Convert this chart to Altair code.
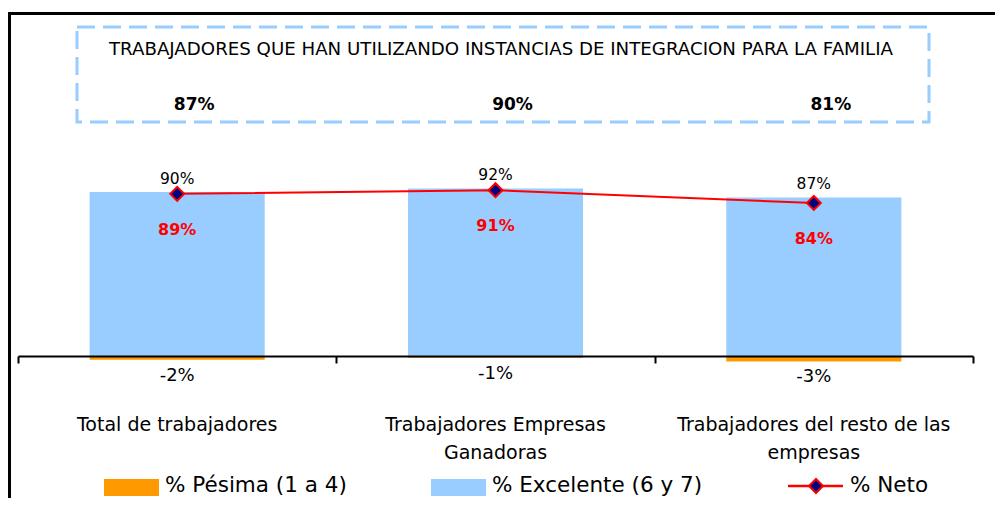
import altair as alt
import pandas as pd

categories = ["Total de trabajadores", "Trabajadores Empresas Ganadoras", "Trabajadores del resto de las empresas"]
cat_labels = ["Total de trabajadores", "Trabajadores Empresas\nGanadoras", "Trabajadores del resto de las\nempresas"]
excelente = [90, 92, 87]
pesima = [-2, -1, -3]
neto = [89, 91, 84]
uso_instancias = [87, 90, 81]
series = ["% Pésima (1 a 4)", "% Excelente (6 y 7)", "% Neto"]
title_text = "TRABAJADORES QUE HAN UTILIZANDO INSTANCIAS DE INTEGRACION PARA LA FAMILIA"

C_PES = "#FF9900"
C_EXC = "#99CCFF"
C_NET = "#FF0000"
C_MK = "#000080"
FONT = "DejaVu Sans"

df = pd.DataFrame({
    "cat": categories,
    "label": cat_labels,
    "excelente": excelente,
    "pesima": pesima,
    "neto": neto,
    "uso": uso_instancias,
})
df["exc_lbl"] = [f"{v}%" for v in excelente]
df["pes_lbl"] = [f"{v}%" for v in pesima]
df["net_lbl"] = [f"{v}%" for v in neto]
df["uso_lbl"] = [f"{v}%" for v in uso_instancias]

one = pd.DataFrame({"k": [0]})

X = alt.X(
    "cat:N",
    sort=categories,
    scale=alt.Scale(paddingInner=0, paddingOuter=0),
    axis=alt.Axis(labels=False, title=None, domainColor="black", domainWidth=2,
                  tickColor="black", tickWidth=2, tickSize=7, tickBand="extent",
                  grid=False, zindex=1),
)
YS = alt.Scale(domain=[0, 191], nice=False, zero=True)

base = alt.Chart(df)

bar_exc = base.mark_bar(width=alt.RelativeBandSize(0.55), color=C_EXC).encode(
    x=X, y=alt.Y("excelente:Q", scale=YS, axis=None))
bar_pes = base.mark_bar(width=alt.RelativeBandSize(0.55), color=C_PES).encode(
    x=X, y=alt.Y("pesima:Q", scale=YS, axis=None))
line = base.mark_line(color=C_NET, strokeWidth=2).encode(
    x=X, y=alt.Y("neto:Q", scale=YS, axis=None))
pts = base.mark_point(shape="diamond", filled=True, fill=C_MK, stroke=C_NET,
                      strokeWidth=2, size=196, opacity=1).encode(
    x=X, y=alt.Y("neto:Q", scale=YS, axis=None))

t_exc = base.mark_text(font=FONT, fontSize=15.5, color="black", baseline="alphabetic", dy=-8).encode(
    x=X, y=alt.Y("excelente:Q", scale=YS, axis=None), text="exc_lbl:N")
t_net = base.mark_text(font=FONT, fontSize=16, fontWeight="bold", color=C_NET,
                       baseline="middle", dy=36).encode(
    x=X, y=alt.Y("neto:Q", scale=YS, axis=None), text="net_lbl:N")
t_pes = base.mark_text(font=FONT, fontSize=18, color="black", baseline="alphabetic", dy=21).encode(
    x=X, y=alt.Y("pesima:Q", scale=YS, axis=None), text="pes_lbl:N")
t_cat = base.mark_text(font=FONT, fontSize=19, color="black", baseline="top",
                       lineBreak="\n", lineHeight=28).encode(
    x=X, y=alt.value(408), text="label:N")
t_uso = base.mark_text(font=FONT, fontSize=17, fontWeight="bold", color="black",
                       baseline="middle", dx=17).encode(
    x=X, y=alt.value(97), text="uso_lbl:N")

deco = alt.Chart(one)
box = deco.mark_rect(fillOpacity=0, stroke=C_EXC, strokeWidth=3, strokeDash=[18, 8]).encode(
    x=alt.value(59), x2=alt.value(911), y=alt.value(19), y2=alt.value(114))
title = deco.mark_text(font=FONT, fontSize=18.2, color="black", baseline="middle", align="center").encode(
    x=alt.value(483), y=alt.value(42), text=alt.value(title_text))
frame_top = deco.mark_rule(color="black", strokeWidth=3).encode(
    x=alt.value(-10), x2=alt.value(980), y=alt.value(5.5))
frame_left = deco.mark_rule(color="black", strokeWidth=3).encode(
    x=alt.value(-8.5), y=alt.value(4), y2=alt.value(495))

lg_pes = deco.mark_rect(color=C_PES).encode(
    x=alt.value(86), x2=alt.value(141), y=alt.value(471), y2=alt.value(488))
lg_exc = deco.mark_rect(color=C_EXC).encode(
    x=alt.value(413), x2=alt.value(468), y=alt.value(471), y2=alt.value(488))
lg_line = deco.mark_rule(color=C_NET, strokeWidth=2.5).encode(
    x=alt.value(770), x2=alt.value(825), y=alt.value(478))
lg_pt = deco.mark_point(shape="diamond", filled=True, fill=C_MK, stroke=C_NET,
                        strokeWidth=2, size=196, opacity=1).encode(
    x=alt.value(798), y=alt.value(478))
lg_t1 = deco.mark_text(font=FONT, fontSize=21.5, align="left", baseline="middle", color="black").encode(
    x=alt.value(147), y=alt.value(477.5), text=alt.value(series[0]))
lg_t2 = deco.mark_text(font=FONT, fontSize=21.5, align="left", baseline="middle", color="black").encode(
    x=alt.value(474), y=alt.value(477.5), text=alt.value(series[1]))
lg_t3 = deco.mark_text(font=FONT, fontSize=21.5, align="left", baseline="middle", color="black").encode(
    x=alt.value(832), y=alt.value(477.5), text=alt.value(series[2]))

chart = alt.layer(
    bar_exc, bar_pes, line, pts, t_exc, t_net, t_pes, t_cat, t_uso,
    box, title, frame_top, frame_left,
    lg_pes, lg_exc, lg_line, lg_pt, lg_t1, lg_t2, lg_t3,
).properties(
    width=955, height=348,
    padding={"left": 10, "top": 0, "right": 22, "bottom": 142},
    autosize=alt.AutoSizeParams(type="none"),
).configure_view(stroke=None)

chart.save("out.html", embed_options={"renderer": "svg", "actions": False})
